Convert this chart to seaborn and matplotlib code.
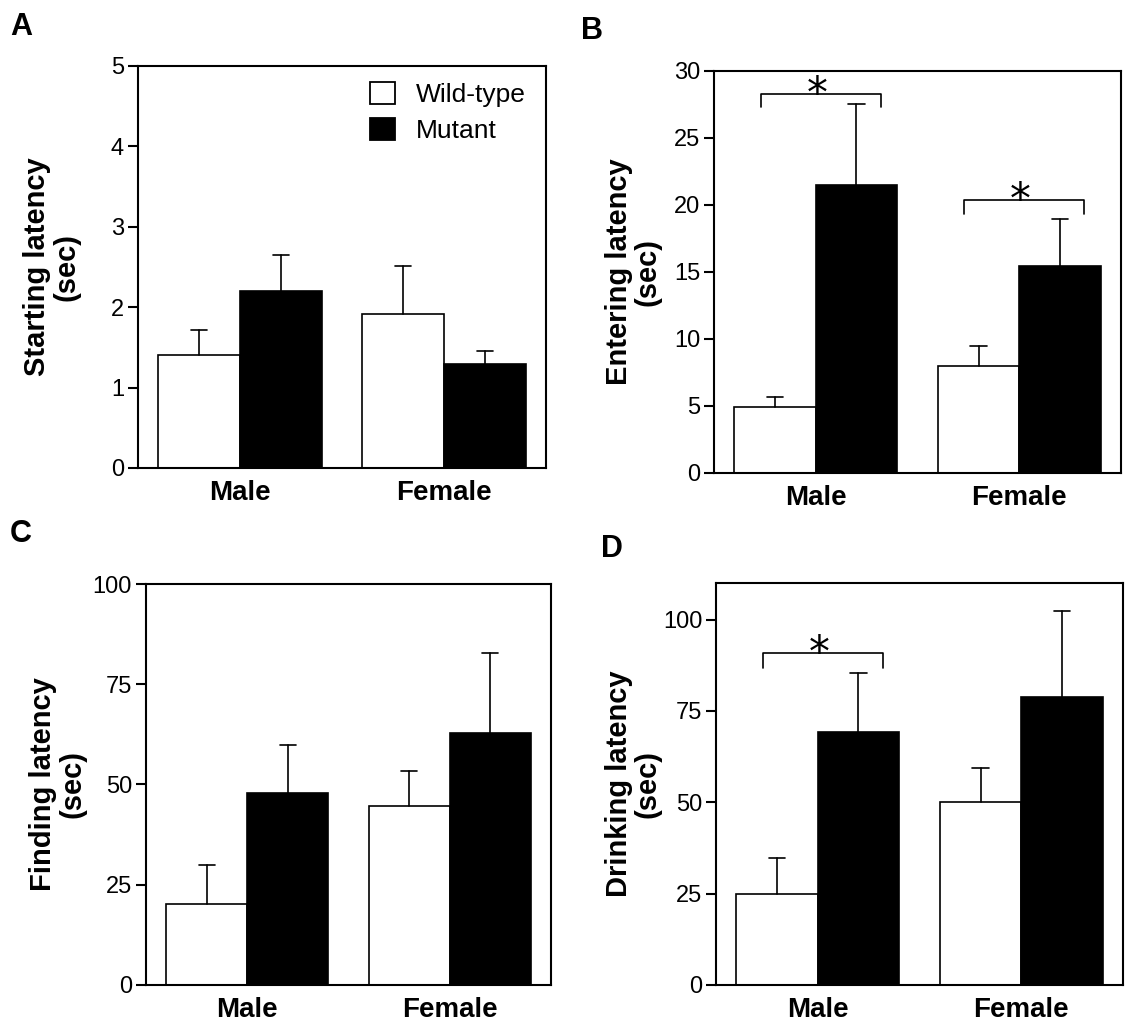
import pandas as pd
import seaborn as sns
import matplotlib.pyplot as plt
from matplotlib.patches import Patch

# Data (mean and top of the SEM bar)
sexes = ['Male', 'Female']
genotypes = ['Wild-type', 'Mutant']

starting_mean = {'Wild-type': [1.41, 1.91], 'Mutant': [2.20, 1.29]}
starting_top = {'Wild-type': [1.71, 2.51], 'Mutant': [2.65, 1.45]}

entering_mean = {'Wild-type': [4.9, 7.97], 'Mutant': [21.5, 15.45]}
entering_top = {'Wild-type': [5.65, 9.48], 'Mutant': [27.5, 18.95]}

finding_mean = {'Wild-type': [20.2, 44.7], 'Mutant': [47.8, 62.8]}
finding_top = {'Wild-type': [29.9, 53.4], 'Mutant': [59.9, 82.8]}

drinking_mean = {'Wild-type': [25.0, 50.2], 'Mutant': [69.2, 78.8]}
drinking_top = {'Wild-type': [34.8, 59.4], 'Mutant': [85.3, 102.3]}

# significance brackets: (sex index, bracket top, leg bottom)
entering_sig = [(0, 28.3, 27.3), (1, 20.4, 19.3)]
drinking_sig = [(0, 90.9, 86.8)]

sns.set_style('ticks')
plt.rcParams['font.family'] = ['Liberation Sans', 'DejaVu Sans']
plt.rcParams['text.color'] = 'black'
plt.rcParams['axes.labelcolor'] = 'black'
plt.rcParams['xtick.color'] = 'black'
plt.rcParams['ytick.color'] = 'black'

fig = plt.figure(figsize=(11.28, 10.34), dpi=100)


def make_df(means):
    rows = []
    for g in genotypes:
        for s, v in zip(sexes, means[g]):
            rows.append({'sex': s, 'genotype': g, 'value': v})
    return pd.DataFrame(rows)


def draw_panel(rect, means, tops, ylabel, ylim, yticks, labelx, sig=None, legend=False):
    ax = fig.add_axes(rect)
    df = make_df(means)
    sns.barplot(data=df, x='sex', y='value', hue='genotype', order=sexes,
                hue_order=genotypes, palette=['white', 'black'], errorbar=None,
                edgecolor='black', linewidth=1.2, width=0.8, ax=ax, legend=False)
    # one-sided SEM bars
    for cont, g in zip(ax.containers, genotypes):
        for bar, top in zip(cont, tops[g]):
            xc = bar.get_x() + bar.get_width() / 2
            h = bar.get_height()
            ax.plot([xc, xc], [h, top], color='black', lw=1.2, zorder=1)
            ax.plot([xc - 0.04, xc + 0.04], [top, top], color='black', lw=1.2, zorder=1)
    if sig:
        for i, ytop, ybot in sig:
            wt = ax.containers[0][i]
            mu = ax.containers[1][i]
            x0 = wt.get_x() + wt.get_width() / 2 - 0.07
            x1 = mu.get_x() + mu.get_width() / 2 + 0.12
            ax.plot([x0, x0, x1, x1], [ybot, ytop, ytop, ybot], color='black', lw=1.2)
            ax.annotate('*', xy=((x0 + x1) / 2 - 0.02, ytop), xytext=(0, -1),
                        textcoords='offset points', ha='center', va='center',
                        fontsize=30, family='DejaVu Sans')
    ax.set_xlim(-0.5, 1.5)
    ax.set_ylim(*ylim)
    ax.set_yticks(yticks)
    ax.set_xlabel('')
    ax.set_ylabel(ylabel, fontsize=21, fontweight='bold', linespacing=1.05)
    ax.yaxis.set_label_coords(labelx, 0.5)
    ax.tick_params(axis='y', labelsize=17, width=1.5, length=7, pad=3,
                   direction='out')
    ax.tick_params(axis='x', length=0, labelsize=20, pad=9)
    for lab in ax.get_xticklabels():
        lab.set_fontweight('bold')
    for sp in ax.spines.values():
        sp.set_visible(True)
        sp.set_linewidth(1.5)
        sp.set_color('black')
    if legend:
        handles = [Patch(facecolor='white', edgecolor='black', lw=1.3),
                   Patch(facecolor='black', edgecolor='black', lw=1.3)]
        ax.legend(handles, genotypes, loc='upper left', bbox_to_anchor=(0.568, 0.96),
                  frameon=False, fontsize=19, handlelength=0.95, handleheight=0.9,
                  handletextpad=0.8, labelspacing=0.4, borderpad=0,
                  borderaxespad=0)
    return ax


draw_panel([0.1223, 0.5474, 0.3617, 0.3888], starting_mean, starting_top,
           'Starting latency\n(sec)', (0, 5), [0, 1, 2, 3, 4, 5], -0.142,
           legend=True)
draw_panel([0.633, 0.5426, 0.3608, 0.3888], entering_mean, entering_top,
           'Entering latency\n(sec)', (0, 30), [0, 5, 10, 15, 20, 25, 30], -0.128,
           sig=entering_sig)
draw_panel([0.1294, 0.0474, 0.359, 0.3878], finding_mean, finding_top,
           'Finding latency\n(sec)', (0, 100), [0, 25, 50, 75, 100], -0.148)
draw_panel([0.6348, 0.0474, 0.3608, 0.3888], drinking_mean, drinking_top,
           'Drinking latency\n(sec)', (0, 110), [0, 25, 50, 75, 100], -0.133,
           sig=drinking_sig)

for letter, x, y in [('A', 0.009, 0.988), ('B', 0.515, 0.9845),
                     ('C', 0.009, 0.498), ('D', 0.533, 0.4836)]:
    fig.text(x, y, letter, fontsize=22, fontweight='bold', va='top', ha='left')

fig.savefig('out.png', dpi=100)
